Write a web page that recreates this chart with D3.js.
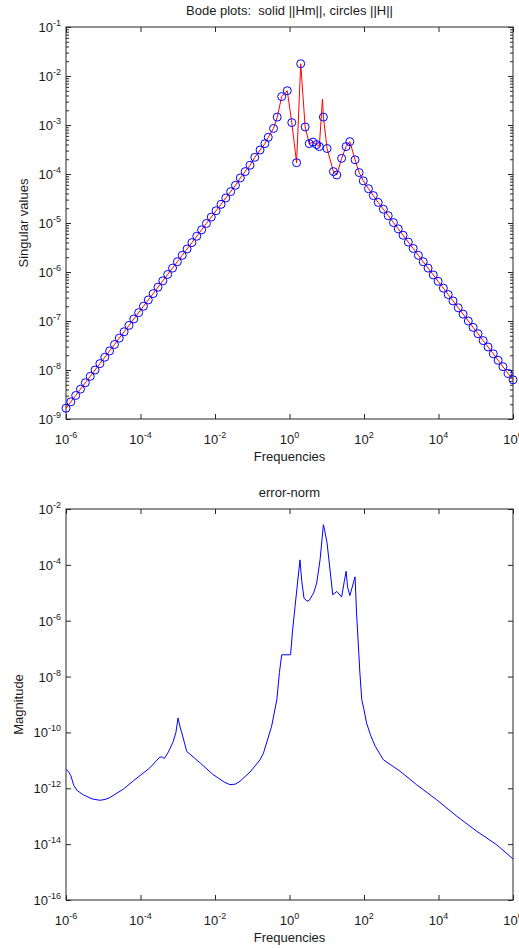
<!DOCTYPE html>
<html><head><meta charset="utf-8">
<script src="https://cdn.jsdelivr.net/npm/d3@7"></script>
<style>
body{margin:0;background:#fff}
text{font-family:"Liberation Sans",Arial,Helvetica,sans-serif;fill:#1a1a1a;white-space:pre}
</style>
</head><body>
<svg id="c" width="519" height="949"></svg>
<script>
// ---- data: ||H|| (circles) ----
const hFreq = [1e-6,1.35e-6,1.82e-6,2.45e-6,3.31e-6,4.47e-6,6.03e-6,8.13e-6,1.10e-5,1.48e-5,
  2.00e-5,2.69e-5,3.63e-5,4.90e-5,6.61e-5,8.91e-5,1.20e-4,1.62e-4,2.19e-4,2.95e-4,
  3.98e-4,5.37e-4,7.24e-4,9.77e-4,1.32e-3,1.78e-3,2.40e-3,3.24e-3,4.37e-3,5.89e-3,
  7.94e-3,1.07e-2,1.45e-2,1.95e-2,2.63e-2,3.55e-2,4.79e-2,6.46e-2,
  8.71e-2,0.117,0.162,0.219,0.269,0.372,0.468,0.617,0.871,1.15,1.55,2.00,2.63,3.39,4.27,5.37,6.31,
  8.13,10.2,15.1,18.6,25.1,33.1,41.7,57.5,74.1,95.5,
  132,178,240,331,447,617,832,1120,1550,2090,2880,3890,5250,7240,9770,
  1.35e4,1.82e4,2.45e4,3.39e4,4.57e4,6.31e4,8.51e4,1.15e5,1.58e5,2.14e5,2.95e5,3.98e5,5.37e5,7.41e5,1e6];
const hMag = [1.66e-9,2.24e-9,3.02e-9,4.07e-9,5.50e-9,7.41e-9,1.00e-8,1.35e-8,1.82e-8,2.45e-8,
  3.31e-8,4.47e-8,6.03e-8,8.13e-8,1.10e-7,1.48e-7,2.00e-7,2.69e-7,3.63e-7,4.90e-7,
  6.61e-7,8.91e-7,1.20e-6,1.62e-6,2.19e-6,2.95e-6,3.98e-6,5.37e-6,7.24e-6,9.77e-6,
  1.32e-5,1.78e-5,2.40e-5,3.24e-5,4.37e-5,5.89e-5,8.32e-5,1.12e-4,
  1.51e-4,2.19e-4,3.09e-4,4.17e-4,5.62e-4,8.51e-4,1.45e-3,3.80e-3,5.01e-3,1.12e-3,1.70e-4,1.78e-2,9.12e-4,4.17e-4,4.47e-4,3.98e-4,3.63e-4,
  1.45e-3,3.31e-4,1.12e-4,9.55e-5,2.09e-4,3.63e-4,4.57e-4,1.95e-4,1.07e-4,7.24e-5,
  5.01e-5,3.63e-5,2.63e-5,1.91e-5,1.41e-5,1.02e-5,7.59e-6,5.62e-6,4.07e-6,3.02e-6,2.19e-6,1.62e-6,1.20e-6,8.71e-7,6.46e-7,
  4.68e-7,3.47e-7,2.57e-7,1.86e-7,1.38e-7,1.00e-7,7.41e-8,5.50e-8,3.98e-8,2.95e-8,2.14e-8,1.58e-8,1.17e-8,8.51e-9,6.31e-9];
// ---- ||Hm|| (solid): same samples plus its extra resonance sample ----
const hmExtraFreq = [7.67];
const hmExtraMag = [3.39e-3];
// ---- error norm ----
const errFreq = [1e-6,1.17e-6,1.35e-6,1.62e-6,2.00e-6,2.88e-6,5.01e-6,8.13e-6,1.12e-5,1.51e-5,
  3.47e-5,6.46e-5,1.78e-4,3.31e-4,3.80e-4,4.37e-4,5.62e-4,7.59e-4,8.91e-4,1.02e-3,
  1.15e-3,1.29e-3,1.74e-3,3.98e-3,8.91e-3,1.78e-2,2.51e-2,3.55e-2,4.68e-2,8.71e-2,
  0.162,0.200,0.331,0.457,0.537,0.617,1.07,1.20,1.41,1.91,
  2.14,2.45,2.95,3.39,4.47,5.37,6.61,8.13,8.91,10.2,
  14.5,18.6,25.1,29.5,33.1,36.3,41.7,57.5,63.1,77.6,
  87.1,100,117,150,200,331,933,2570,8913,3.09e4,1.07e5,3.63e5,1e6];
const errMag = [4.68e-12,3.98e-12,2.82e-12,1.26e-12,8.32e-13,5.89e-13,4.17e-13,3.72e-13,3.98e-13,4.68e-13,
  9.33e-13,1.86e-12,5.37e-12,1.32e-11,1.32e-11,1.17e-11,2.00e-11,4.79e-11,1.00e-10,3.31e-10,
  1.58e-10,9.55e-11,2.09e-11,8.13e-12,3.09e-12,1.66e-12,1.35e-12,1.41e-12,1.78e-12,3.80e-12,
  1.05e-11,1.82e-11,1.66e-10,1.48e-9,1.41e-8,6.03e-8,6.03e-8,3.98e-7,3.24e-6,1.51e-4,
  2.51e-5,6.46e-6,5.01e-6,5.37e-6,1.00e-5,2.24e-5,1.51e-4,2.75e-3,1.58e-3,6.03e-4,
  8.51e-6,1.12e-5,7.08e-6,2.51e-5,5.89e-5,1.58e-5,7.94e-6,3.72e-5,1.91e-6,1.35e-8,
  1.48e-9,6.5e-10,2.19e-10,8.0e-11,3.2e-11,1.05e-11,4.07e-12,1.35e-12,3.89e-13,1.00e-13,2.88e-14,9.55e-15,2.95e-15];
// ---- ticks ----
const xTickVals = [1e-6,1e-4,1e-2,1,1e2,1e4,1e6];
const xTickExp = ["-6","-4","-2","0","2","4","6"];
const topYTickVals = [1e-1,1e-2,1e-3,1e-4,1e-5,1e-6,1e-7,1e-8,1e-9];
const topYTickExp = ["-1","-2","-3","-4","-5","-6","-7","-8","-9"];
const botYTickVals = [1e-2,1e-4,1e-6,1e-8,1e-10,1e-12,1e-14,1e-16];
const botYTickExp = ["-2","-4","-6","-8","-10","-12","-14","-16"];
const titles = ["Bode plots:  solid ||Hm||, circles ||H||", "error-norm"];
const yLabels = ["Singular values", "Magnitude"];
const xLabel = "Frequencies";

const svg = d3.select("#c");
const L = 66, R = 513;
const axisCol = "#262626";

function powText(sel, exp) {
  sel.append("tspan").text("10");
  sel.append("tspan").attr("dy", -6).attr("font-size", 9).text(exp);
}

function panel(top, bottom, yDomain, yTickVals, yTickExp, title, yLabel, yLabelX, minor) {
  const x = d3.scaleLog().domain([1e-6, 1e6]).range([L, R]);
  const y = d3.scaleLog().domain(yDomain).range([bottom, top]);
  const g = svg.append("g");
  const styleAxis = s => { s.select(".domain").remove(); s.selectAll("line").attr("stroke", axisCol); };
  g.append("g").attr("transform", `translate(0,${bottom})`)
    .call(d3.axisBottom(x).tickValues(xTickVals).tickSize(-5).tickFormat("")).call(styleAxis);
  g.append("g").attr("transform", `translate(0,${top})`)
    .call(d3.axisTop(x).tickValues(xTickVals).tickSize(-5).tickFormat("")).call(styleAxis);
  g.append("g").attr("transform", `translate(${L},0)`)
    .call(d3.axisLeft(y).tickValues(yTickVals).tickSize(-5).tickFormat("")).call(styleAxis);
  g.append("g").attr("transform", `translate(${R},0)`)
    .call(d3.axisRight(y).tickValues(yTickVals).tickSize(-5).tickFormat("")).call(styleAxis);
  if (minor) {
    const mv = y.ticks().filter(v => !yTickVals.some(t => Math.abs(t - v) / t < 1e-6));
    g.append("g").attr("transform", `translate(${L},0)`)
      .call(d3.axisLeft(y).tickValues(mv).tickSize(-3).tickFormat("")).call(styleAxis);
    g.append("g").attr("transform", `translate(${R},0)`)
      .call(d3.axisRight(y).tickValues(mv).tickSize(-3).tickFormat("")).call(styleAxis);
  }
  g.append("rect").attr("x", L).attr("y", top).attr("width", R - L).attr("height", bottom - top)
    .attr("fill", "none").attr("stroke", axisCol).attr("stroke-width", 1);
  xTickVals.forEach((v, i) => {
    g.append("text").attr("x", x(v)).attr("y", bottom + 25).attr("text-anchor", "middle")
      .attr("font-size", 13).call(powText, xTickExp[i]);
  });
  yTickVals.forEach((v, i) => {
    g.append("text").attr("x", 61).attr("y", y(v) + 5).attr("text-anchor", "end")
      .attr("font-size", 13).call(powText, yTickExp[i]);
  });
  g.append("text").attr("x", (L + R) / 2).attr("y", top - 12).attr("text-anchor", "middle")
    .attr("font-size", 13).text(title);
  g.append("text").attr("x", (L + R) / 2).attr("y", bottom + 42).attr("text-anchor", "middle")
    .attr("font-size", 13).text(xLabel);
  g.append("text").attr("transform", `translate(${yLabelX},${(top + bottom) / 2}) rotate(-90)`)
    .attr("text-anchor", "middle").attr("font-size", 13).text(yLabel);
  return {x, y, g};
}

// top panel
const p1 = panel(27, 419, [1e-9, 1e-1], topYTickVals, topYTickExp, titles[0], yLabels[0], 28, true);
const hPts = hFreq.map((f, i) => ({f, m: hMag[i]}));
const hmPts = hPts.concat(hmExtraFreq.map((f, i) => ({f, m: hmExtraMag[i]}))).sort((a, b) => a.f - b.f);
p1.g.append("path").datum(hmPts)
  .attr("d", d3.line().x(d => p1.x(d.f)).y(d => p1.y(d.m)))
  .attr("fill", "none").attr("stroke", "#ff0000").attr("stroke-width", 1);
p1.g.append("g").selectAll("circle").data(hPts).join("circle")
  .attr("cx", d => p1.x(d.f)).attr("cy", d => p1.y(d.m)).attr("r", 4)
  .attr("fill", "none").attr("stroke", "#0000ff").attr("stroke-width", 1);

// bottom panel
const p2 = panel(509, 900, [1e-16, 1e-2], botYTickVals, botYTickExp, titles[1], yLabels[1], 23, false);
const ePts = errFreq.map((f, i) => ({f, m: errMag[i]}));
p2.g.append("path").datum(ePts)
  .attr("d", d3.line().x(d => p2.x(d.f)).y(d => p2.y(d.m)))
  .attr("fill", "none").attr("stroke", "#0000ff").attr("stroke-width", 1);
</script>
</body></html>
